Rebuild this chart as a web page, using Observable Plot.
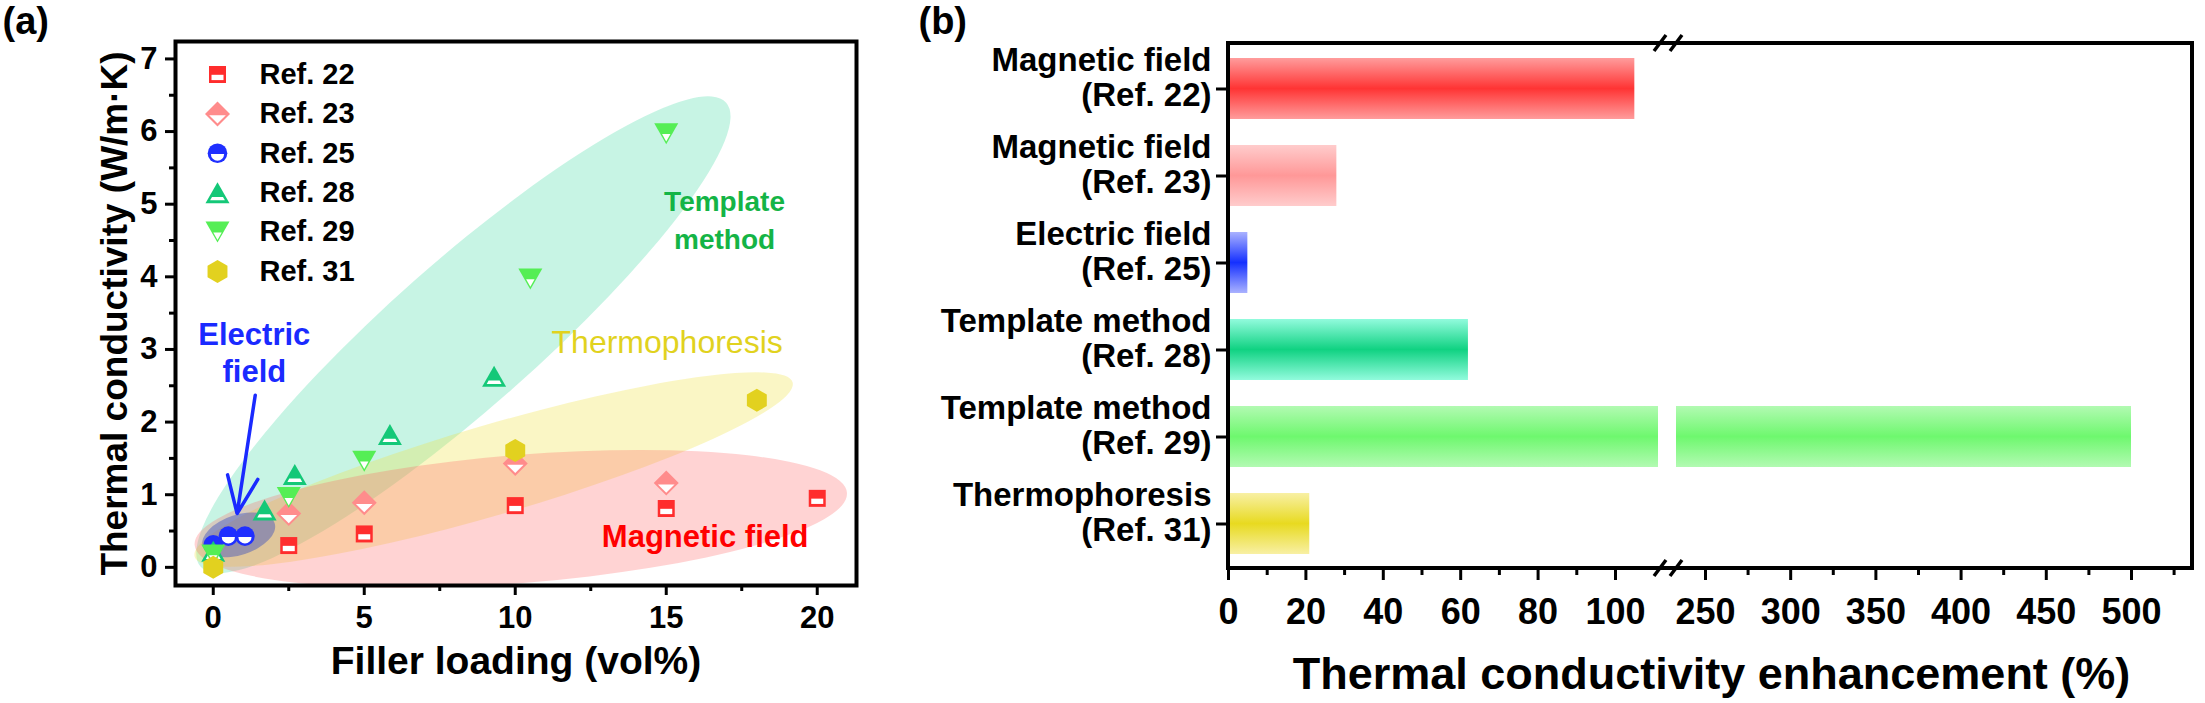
<!DOCTYPE html>
<html><head><meta charset="utf-8">
<script src="https://cdn.jsdelivr.net/npm/d3@7"></script>
<script src="https://cdn.jsdelivr.net/npm/@observablehq/plot@0.6"></script>
<style>
html,body{margin:0;padding:0;background:#fff;}
#root{position:relative;width:2205px;height:703px;overflow:hidden;}
#pa{position:absolute;left:0;top:0;}
#pb1{position:absolute;left:880px;top:0;}
#pb2{position:absolute;left:1668px;top:0;}
</style></head><body>
<svg width="0" height="0" style="position:absolute"><defs id="defs"></defs></svg>
<div id="root"><div id="pa"></div><div id="pb1"></div><div id="pb2"></div></div>
<script>
// ---------------- DATA: panel (a)
const refs = ["Ref. 22", "Ref. 23", "Ref. 25", "Ref. 28", "Ref. 29", "Ref. 31"];
const ref22X = [2.5, 5, 10, 15, 20];
const ref22Y = [0.30, 0.46, 0.85, 0.81, 0.95];
const ref23X = [2.5, 5, 10, 15];
const ref23Y = [0.74, 0.89, 1.43, 1.16];
const ref25X = [0, 0.5, 1.05];
const ref25Y = [0.31, 0.43, 0.43];
const ref28X = [0, 1.7, 2.7, 5.85, 9.3];
const ref28Y = [0.22, 0.79, 1.28, 1.83, 2.63];
const ref29X = [0, 2.5, 5, 10.5, 15];
const ref29Y = [0.17, 0.96, 1.46, 3.97, 5.97];
const ref31X = [0, 10, 18];
const ref31Y = [0.0, 1.61, 2.30];
const xTicksA = [0, 5, 10, 15, 20];
const xMinorA = [2.5, 7.5, 12.5, 17.5];
const yTicksA = [0, 1, 2, 3, 4, 5, 6, 7];
const yMinorA = [0.5, 1.5, 2.5, 3.5, 4.5, 5.5, 6.5];
// shaded method regions: major-axis end points (data units)
const regionNames = ["Template method", "Thermophoresis", "Magnetic field", "Electric field"];
const regionX1 = [-0.4, -0.6, -0.6, -0.33];
const regionY1 = [0.0, 0.14, 0.30, 0.28];
const regionX2 = [17.0, 19.2, 21.0, 2.05];
const regionY2 = [6.39, 2.54, 1.02, 0.60];
// region labels
const regionLabels = ["Template\nmethod", "Thermophoresis", "Magnetic field", "Electric\nfield"];
const regionLabelX = [16.93, 15.03, 16.29, 1.36];
const regionLabelY = [4.81, 3.12, 0.44, 2.97];
const arrowStart = [1.39, 2.37];
const arrowEnd = [0.79, 0.74];

// ---------------- DATA: panel (b)
const methodsB = ["Magnetic field", "Magnetic field", "Electric field", "Template method", "Template method", "Thermophoresis"];
const enhancement = [105, 28, 5, 62, 500, 21];
const xTicksB = [0, 20, 40, 60, 80, 100, 250, 300, 350, 400, 450, 500];
const xMinorB = [10, 30, 50, 70, 90, 275, 325, 375, 425, 475, 525];
const xBreak = [113.7, 228.3];   // broken axis: gap between these values
const xMaxB = 535.8;

// ---------------- STYLES
const FONT = "'Liberation Sans', Arial, Helvetica, sans-serif";
const refColor = {"Ref. 22": "#ff2d2d", "Ref. 23": "#ff8c8c", "Ref. 25": "#1f2fff", "Ref. 28": "#14c878", "Ref. 29": "#55ee55", "Ref. 31": "#e2d11f"};
const barGrad = {"Ref. 22": ["#ff9c9c", "#ff3434"], "Ref. 23": ["#ffcccc", "#ff9898"], "Ref. 25": ["#aab2ff", "#1530ff"],
                 "Ref. 28": ["#92fbdd", "#10d282"], "Ref. 29": ["#b2fab2", "#6ef86e"], "Ref. 31": ["#f8f0a4", "#e8da20"]};
const regionStyle = {
  "Template method": {fill: "#30d69a", opacity: 0.27, half: 73, text: "#14b446", size: 28, weight: "bold", lh: 1.36},
  "Thermophoresis": {fill: "#efe040", opacity: 0.30, half: 45, text: "#e1d21e", size: 32, weight: "normal", lh: 1.2},
  "Magnetic field": {fill: "#ff6060", opacity: 0.28, half: 64, text: "#ff0000", size: 31, weight: "bold", lh: 1.2},
  "Electric field": {fill: "#2840c0", opacity: 0.40, half: 20, text: "#1a2aff", size: 31, weight: "bold", lh: 1.2}
};

// gradients for bars
const NS = "http://www.w3.org/2000/svg";
const defs = document.getElementById("defs");
const gid = r => "g" + r.replace(/\D/g, "");
for (const r of refs) {
  const g = document.createElementNS(NS, "linearGradient");
  g.setAttribute("id", gid(r));
  g.setAttribute("x1", "0"); g.setAttribute("y1", "0"); g.setAttribute("x2", "0"); g.setAttribute("y2", "1");
  [[0, barGrad[r][0]], [0.5, barGrad[r][1]], [1, barGrad[r][0]]].forEach(([o, c]) => {
    const s = document.createElementNS(NS, "stop");
    s.setAttribute("offset", o); s.setAttribute("stop-color", c);
    g.appendChild(s);
  });
  defs.appendChild(g);
}

// custom half-filled symbols
const K = s => Math.sqrt(s / Math.PI) / 10;
function polySym(pts) {
  return {draw(c, s) { const k = K(s); pts.forEach(([x, y], i) => i ? c.lineTo(x * k, y * k) : c.moveTo(x * k, y * k)); c.closePath(); }};
}
function circleSym(R) { return {draw(c, s) { const k = K(s); c.moveTo(R * k, 0); c.arc(0, 0, R * k, 0, 2 * Math.PI); c.closePath(); }}; }
function halfDiscSym(R, y0) { return {draw(c, s) { const k = K(s); c.moveTo(-R * k, y0 * k); c.lineTo(R * k, y0 * k); c.arc(0, y0 * k, R * k, 0, Math.PI); c.closePath(); }}; }
const hexPts = d3.range(6).map(i => { const a = (-90 + 60 * i) * Math.PI / 180; return [11.5 * Math.cos(a), 11.5 * Math.sin(a)]; });
const shapes = {
  "Ref. 22": {full: polySym([[-8.5, -8.5], [8.5, -8.5], [8.5, 8.5], [-8.5, 8.5]]), inner: polySym([[-6, 0.3], [6, 0.3], [6, 5.6], [-6, 5.6]])},
  "Ref. 23": {full: polySym([[0, -12.5], [12.5, 0], [0, 12.5], [-12.5, 0]]), inner: polySym([[-8.3, 1.3], [8.3, 1.3], [0, 9.6]])},
  "Ref. 25": {full: circleSym(9.8), inner: halfDiscSym(6.6, 0.8)},
  "Ref. 28": {full: polySym([[0, -10.5], [12, 10.5], [-12, 10.5]]), inner: polySym([[-5.5, 4.2], [5.5, 4.2], [7.4, 7.6], [-7.4, 7.6]])},
  "Ref. 29": {full: polySym([[-12, -10.5], [12, -10.5], [0, 10.5]]), inner: polySym([[-4.2, 0.3], [4.2, 0.3], [0, 7.8]])},
  "Ref. 31": {full: polySym(hexPts), inner: null}
};

const seriesA = [
  {ref: "Ref. 22", xs: ref22X, ys: ref22Y}, {ref: "Ref. 23", xs: ref23X, ys: ref23Y},
  {ref: "Ref. 25", xs: ref25X, ys: ref25Y}, {ref: "Ref. 28", xs: ref28X, ys: ref28Y},
  {ref: "Ref. 29", xs: ref29X, ys: ref29Y}, {ref: "Ref. 31", xs: ref31X, ys: ref31Y}
];

// region ellipses drawn through the plot's scales
const regions = regionNames.map((n, i) => ({name: n, x1: regionX1[i], y1: regionY1[i], x2: regionX2[i], y2: regionY2[i]}));
function regionMark(index, scales) {
  const g = document.createElementNS(NS, "g");
  for (const e of regions) {
    const st = regionStyle[e.name];
    const px1 = scales.x(e.x1), py1 = scales.y(e.y1), px2 = scales.x(e.x2), py2 = scales.y(e.y2);
    const cx = (px1 + px2) / 2, cy = (py1 + py2) / 2;
    const rx = Math.hypot(px2 - px1, py2 - py1) / 2;
    const ang = Math.atan2(py2 - py1, px2 - px1) * 180 / Math.PI;
    const el = document.createElementNS(NS, "ellipse");
    el.setAttribute("cx", cx); el.setAttribute("cy", cy);
    el.setAttribute("rx", rx); el.setAttribute("ry", st.half);
    el.setAttribute("transform", `rotate(${ang} ${cx} ${cy})`);
    el.setAttribute("fill", st.fill); el.setAttribute("fill-opacity", st.opacity);
    g.appendChild(el);
  }
  return g;
}

// ---------------- PANEL (a)
const marksA = [regionMark];
for (const s of seriesA) {
  const pts = s.xs.map((x, i) => ({x, y: s.ys[i]}));
  marksA.push(Plot.dot(pts, {x: "x", y: "y", r: 10, symbol: shapes[s.ref].full, fill: refColor[s.ref], stroke: "none"}));
  if (shapes[s.ref].inner) marksA.push(Plot.dot(pts, {x: "x", y: "y", r: 10, symbol: shapes[s.ref].inner, fill: "white", stroke: "none"}));
}
marksA.push(Plot.arrow([{x1: arrowStart[0], y1: arrowStart[1], x2: arrowEnd[0], y2: arrowEnd[1]}],
  {x1: "x1", y1: "y1", x2: "x2", y2: "y2", stroke: regionStyle["Electric field"].text, strokeWidth: 3.5, headLength: 20, headAngle: 45}));
regionNames.forEach((n, i) => {
  const st = regionStyle[n];
  marksA.push(Plot.text([{t: regionLabels[i], x: regionLabelX[i], y: regionLabelY[i]}],
    {x: "x", y: "y", text: "t", fill: st.text, fontSize: st.size, fontWeight: st.weight, lineHeight: st.lh, lineAnchor: "middle"}));
});
// legend
refs.forEach((r, i) => {
  const dy = 33 + 39.4 * i;
  marksA.push(Plot.dot([r], {frameAnchor: "top-left", dx: 42, dy, r: 10, symbol: shapes[r].full, fill: refColor[r], stroke: "none"}));
  if (shapes[r].inner) marksA.push(Plot.dot([r], {frameAnchor: "top-left", dx: 42, dy, r: 10, symbol: shapes[r].inner, fill: "white", stroke: "none"}));
  marksA.push(Plot.text([r], {frameAnchor: "top-left", dx: 84, dy, text: d => d, textAnchor: "start", lineAnchor: "middle", fontSize: 29, fontWeight: "bold"}));
});
marksA.push(
  Plot.frame({stroke: "black", strokeWidth: 4}),
  Plot.axisX({ticks: xTicksA, tickSize: 10, tickPadding: 10, fontSize: 31, fontWeight: "bold", strokeWidth: 3, label: null, tickFormat: d => String(d)}),
  Plot.axisX({ticks: xMinorA, tickSize: 6, strokeWidth: 3, label: null, tickFormat: () => ""}),
  Plot.axisY({ticks: yTicksA, tickSize: 10, tickPadding: 8, fontSize: 31, fontWeight: "bold", strokeWidth: 3, label: null, tickFormat: d => String(d)}),
  Plot.axisY({ticks: yMinorA, tickSize: 6, strokeWidth: 3, label: null, tickFormat: () => ""}),
  Plot.text(["Filler loading (vol%)"], {frameAnchor: "bottom", dy: 76, text: d => d, textAnchor: "middle", fontSize: 39, fontWeight: "bold", lineAnchor: "middle"}),
  Plot.text(["Thermal conductivity (W/m\u00b7K)"], {frameAnchor: "left", dx: -60, rotate: -90, text: d => d, textAnchor: "middle", fontSize: 37, fontWeight: "bold", lineAnchor: "middle"}),
  Plot.text(["(a)"], {frameAnchor: "top-left", dx: -173, dy: -20, text: d => d, textAnchor: "start", lineAnchor: "middle", fontSize: 38, fontWeight: "bold"})
);
const plotA = Plot.plot({
  width: 880, height: 703, marginLeft: 175, marginRight: 24, marginTop: 41, marginBottom: 118,
  x: {domain: [-1.25, 21.3]}, y: {domain: [-0.25, 7.24]},
  style: {fontFamily: FONT, fontWeight: "bold", background: "transparent", overflow: "visible", color: "black"},
  marks: marksA
});
document.getElementById("pa").appendChild(plotA);

// ---------------- PANEL (b): broken x axis drawn as two joined plots
const labelsB = methodsB.map((m, i) => `${m}\n(${refs[i]})`);
const rowsB = labelsB.map((lab, i) => ({lab, ref: refs[i], v: enhancement[i]}));
const plain = rowsB.filter(d => d.v <= xBreak[0]);
const broken = rowsB.filter(d => d.v > xBreak[0]);
const gradFill = d => `url(#${gid(d.ref)})`;

function frameSides(sides) {
  return (index, scales, values, dim) => {
    const g = document.createElementNS(NS, "g");
    const L = dim.marginLeft, R = dim.width - dim.marginRight, T = dim.marginTop, B = dim.height - dim.marginBottom;
    const segs = {top: [L, T, R, T], bottom: [L, B, R, B], left: [L, T, L, B], right: [R, T, R, B]};
    for (const s of sides) {
      const [x1, y1, x2, y2] = segs[s];
      const l = document.createElementNS(NS, "line");
      l.setAttribute("x1", x1); l.setAttribute("y1", y1); l.setAttribute("x2", x2); l.setAttribute("y2", y2);
      l.setAttribute("stroke", "black"); l.setAttribute("stroke-width", 4); l.setAttribute("stroke-linecap", "square");
      g.appendChild(l);
    }
    return g;
  };
}
function breakMark(index, scales, values, dim) {
  const g = document.createElementNS(NS, "g");
  const bx = scales.x(xBreak[0]);
  for (const yy of [dim.marginTop, dim.height - dim.marginBottom]) {
    for (const off of [-8, 8]) {
      const l = document.createElementNS(NS, "line");
      l.setAttribute("x1", bx + off - 6); l.setAttribute("y1", yy + 8);
      l.setAttribute("x2", bx + off + 6); l.setAttribute("y2", yy - 8);
      l.setAttribute("stroke", "black"); l.setAttribute("stroke-width", 3.5);
      g.appendChild(l);
    }
  }
  return g;
}
const commonB = {
  height: 703, marginTop: 43, marginBottom: 135,
  y: {domain: labelsB, paddingInner: 0.3, paddingOuter: 0.15},
  color: {type: "identity"},
  style: {fontFamily: FONT, fontWeight: "bold", background: "transparent", overflow: "visible", color: "black"}
};
const plotB1 = Plot.plot({
  ...commonB, width: 788, marginLeft: 348, marginRight: 0,
  x: {domain: [0, xBreak[0]]},
  marks: [
    Plot.barX(plain, {y: "lab", x1: 0, x2: "v", fill: gradFill}),
    Plot.barX(broken, {y: "lab", x1: 0, x2: xBreak[0], insetRight: 10, fill: gradFill}),
    frameSides(["top", "bottom", "left"]),
    Plot.axisX({ticks: xTicksB.filter(t => t <= xBreak[0]), tickSize: 12, tickPadding: 18, fontSize: 36, fontWeight: "bold", strokeWidth: 3, label: null, tickFormat: d => String(d)}),
    Plot.axisX({ticks: xMinorB.filter(t => t <= xBreak[0]), tickSize: 7, strokeWidth: 3, label: null, tickFormat: () => ""}),
    Plot.axisY({tickSize: 12, strokeWidth: 3, label: null, tickFormat: () => ""}),
    Plot.text(labelsB, {y: d => d, text: d => d, frameAnchor: "left", dx: -17, dy: -12, textAnchor: "end", lineAnchor: "middle", lineHeight: 1.08, fontSize: 33, fontWeight: "bold"}),
    Plot.text(["Thermal conductivity enhancement (%)"], {frameAnchor: "bottom", dx: 263, dy: 106, text: d => d, textAnchor: "middle", fontSize: 45, fontWeight: "bold", lineAnchor: "middle"}),
    Plot.text(["(b)"], {frameAnchor: "top-left", dx: -310, dy: -22, text: d => d, textAnchor: "start", lineAnchor: "middle", fontSize: 38, fontWeight: "bold"})
  ]
});
document.getElementById("pb1").appendChild(plotB1);
const plotB2 = Plot.plot({
  ...commonB, width: 537, marginLeft: 0, marginRight: 13,
  x: {domain: [xBreak[1], xMaxB]},
  marks: [
    Plot.barX(broken, {y: "lab", x1: xBreak[1], x2: "v", insetLeft: 8, fill: gradFill}),
    frameSides(["top", "bottom", "right"]),
    Plot.axisX({ticks: xTicksB.filter(t => t >= xBreak[1]), tickSize: 12, tickPadding: 18, fontSize: 36, fontWeight: "bold", strokeWidth: 3, label: null, tickFormat: d => String(d)}),
    Plot.axisX({ticks: xMinorB.filter(t => t >= xBreak[1]), tickSize: 7, strokeWidth: 3, label: null, tickFormat: () => ""}),
    Plot.axisY({tickSize: 0, label: null, tickFormat: () => "", strokeOpacity: 0})
  ]
});
document.getElementById("pb2").appendChild(plotB2);
// break marks drawn on top, at the junction of the two segments
const breakSvg = Plot.plot({
  ...commonB, width: 788, marginLeft: 348, marginRight: 0,
  x: {domain: [0, xBreak[0]], axis: null}, y: {domain: labelsB, axis: null},
  marks: [breakMark]
});
breakSvg.style.position = "absolute"; breakSvg.style.left = "880px"; breakSvg.style.top = "0px";
document.getElementById("root").appendChild(breakSvg);
</script>
</body></html>
